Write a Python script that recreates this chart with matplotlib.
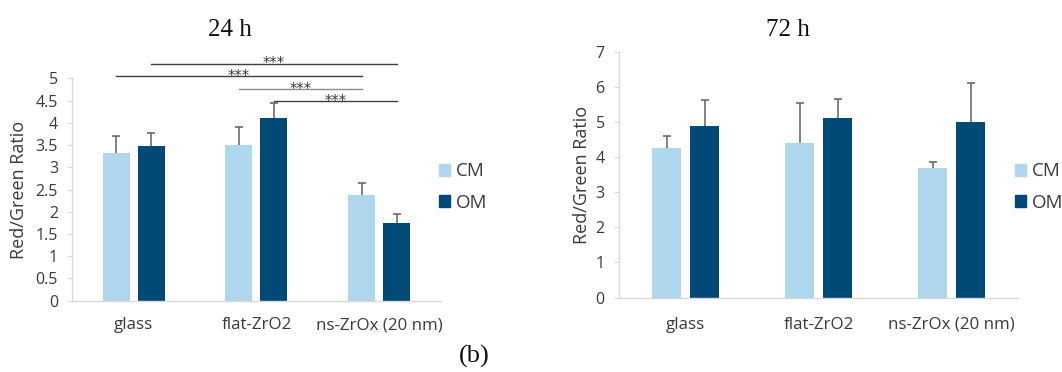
import matplotlib
matplotlib.use("Agg")
import matplotlib.pyplot as plt
from matplotlib.patches import Patch
import numpy as np

# ---------------- data ----------------
categories = ["glass", "flat-ZrO2", "ns-ZrOx (20 nm)"]
series_names = ["CM", "OM"]

cm_24 = [3.33, 3.51, 2.37]
om_24 = [3.48, 4.10, 1.74]
cm_24_err = [0.38, 0.40, 0.28]
om_24_err = [0.30, 0.35, 0.22]

cm_72 = [4.26, 4.39, 3.69]
om_72 = [4.88, 5.12, 5.00]
cm_72_err = [0.34, 1.15, 0.16]
om_72_err = [0.74, 0.53, 1.10]

# significance brackets (24 h): (category, series) start, (category, series) end, height, label
sig_start = [(0, 1), (0, 0), (1, 0), (1, 1)]
sig_end = [(2, 1), (2, 0), (2, 0), (2, 1)]
sig_height = [5.33, 5.05, 4.76, 4.49]
sig_label = ["***", "***", "***", "***"]
sig_color = ["#404040", "#404040", "#8C8C8C", "#404040"]

titles = ["24 h", "72 h"]
ylabel = "Red/Green Ratio"
panel_label = "(b)"

# ---------------- style ----------------
C_LIGHT = "#AED6EC"
C_DARK = "#004A75"
ERR_C = "#5F5F5F"
SPINE_C = "#D9D9D9"
TXT_C = "#3A3A3A"
FONT = "Open Sans"
SERIF = "Liberation Serif"

W, H = 1062, 372
fig = plt.figure(figsize=(W / 100, H / 100), dpi=100)

def px_box(x0, x1, ytop, ybot):
    return [x0 / W, 1 - ybot / H, (x1 - x0) / W, (ybot - ytop) / H]

ax1 = fig.add_axes(px_box(72.3, 440.5, 78.3, 300.7))
ax2 = fig.add_axes(px_box(619, 1018.3, 51.7, 297.5))

off = 0.143
bw = 0.22
x = np.arange(len(categories))

def err_up(ax, xs, vals, errs):
    vals = np.asarray(vals)
    tops = vals + np.asarray(errs)
    ax.vlines(xs, vals, tops, color=ERR_C, lw=1.1, zorder=3)
    ax.plot(xs, tops, ls="none", marker="_", ms=5.5, mew=1.1, color=ERR_C, zorder=3)

def draw(ax, cm, om, cme, ome, ymax, ystep, xpad, ylabx):
    ax.bar(x - off, cm, bw, color=C_LIGHT, zorder=2)
    ax.bar(x + off, om, bw, color=C_DARK, zorder=2)
    err_up(ax, x - off, cm, cme)
    err_up(ax, x + off, om, ome)
    ax.set_xlim(-0.5, 2.5)
    ax.set_ylim(0, ymax)
    ticks = np.arange(0, ymax + 1e-9, ystep)
    ax.set_yticks(ticks)
    ax.set_yticklabels([("%g" % t) for t in ticks], fontsize=11.5, family=FONT, color=TXT_C)
    ax.set_xticks(x)
    ax.set_xticklabels(categories, fontsize=12.2, family=FONT, color=TXT_C)
    ax.tick_params(axis="x", length=0, pad=xpad)
    ax.tick_params(axis="y", length=3.8, width=0.8, color=SPINE_C, pad=6.5)
    for s in ["top", "right"]:
        ax.spines[s].set_visible(False)
    for s in ["left", "bottom"]:
        ax.spines[s].set_color(SPINE_C)
        ax.spines[s].set_linewidth(1.0)
    ax.set_ylabel(ylabel, fontsize=13, family=FONT, color=TXT_C)
    ax.yaxis.set_label_coords(ylabx, 0.5)

draw(ax1, cm_24, om_24, cm_24_err, om_24_err, 5, 0.5, 12, -0.119)
draw(ax2, cm_72, om_72, cm_72_err, om_72_err, 7, 1, 14, -0.071)

# significance brackets
for (c0, s0), (c1, s1), h, lab, col in zip(sig_start, sig_end, sig_height, sig_label, sig_color):
    xa = c0 + (off if s0 == 1 else -off)
    xb = c1 + (off if s1 == 1 else -off)
    ax1.plot([xa, xb], [h, h], color=col, lw=1.0, clip_on=False, zorder=4)
    ax1.annotate(lab, xy=((xa + xb) / 2, h), xytext=(0, -3.5), textcoords="offset points",
                 ha="center", va="baseline", fontsize=10.5, family="DejaVu Sans",
                 color=TXT_C, annotation_clip=False)

# legends
handles = [Patch(color=C_LIGHT, label=series_names[0]), Patch(color=C_DARK, label=series_names[1])]
for lx in (439 / W, 1015 / W):
    fig.legend(handles=handles, loc="center left", bbox_to_anchor=(lx, 1 - 187 / H),
               frameon=False, borderpad=0, borderaxespad=0, handlelength=0.6,
               handleheight=0.6, handletextpad=0.3, labelspacing=0.7,
               prop={"family": FONT, "size": 13.5}, labelcolor=TXT_C)

# titles
fig.text(230 / W, 1 - 36.5 / H, titles[0], ha="center", va="baseline",
         fontsize=18, family=SERIF, color="#111111")
fig.text(788 / W, 1 - 36 / H, titles[1], ha="center", va="baseline",
         fontsize=18, family=SERIF, color="#111111")
fig.text(474 / W, 1 - 363 / H, panel_label, ha="center", va="baseline",
         fontsize=19, family=SERIF, color="#111111")

fig.savefig("out.png", dpi=100, facecolor="white")
